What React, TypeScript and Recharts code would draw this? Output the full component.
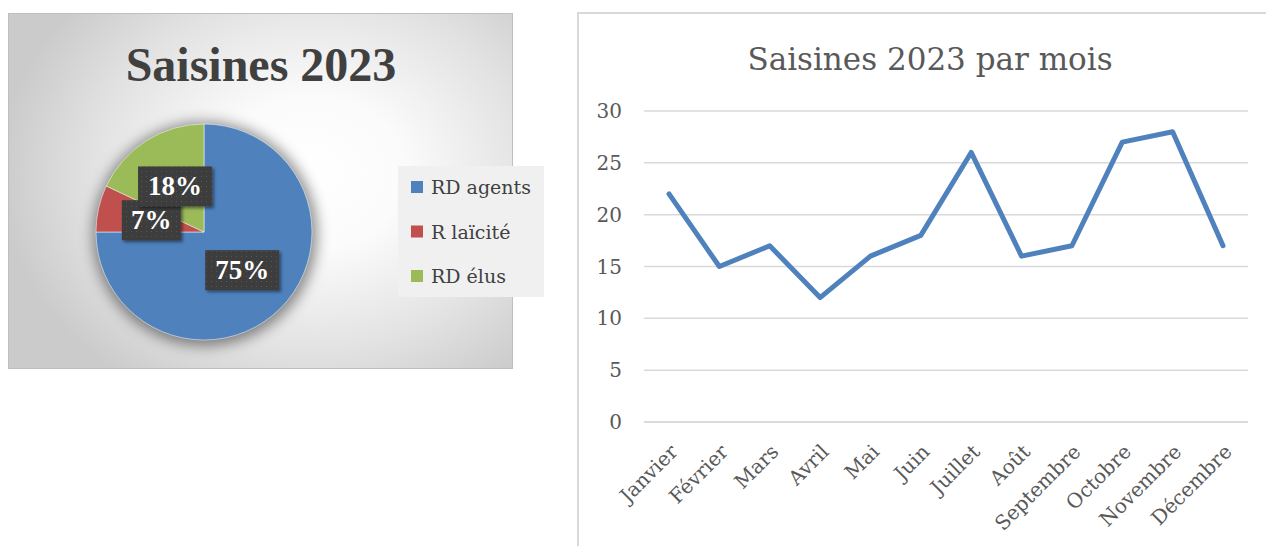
import React from 'react';
import { PieChart, Pie, Cell, Legend, LineChart, Line, XAxis, YAxis, CartesianGrid } from 'recharts';

const pieCategories = ['RD agents', 'R laïcité', 'RD élus'];
const pieShares = [75, 7, 18];
const pieColors = ['#4f81bd', '#c0504d', '#9bbb59'];

const months = ['Janvier', 'Février', 'Mars', 'Avril', 'Mai', 'Juin', 'Juillet', 'Août', 'Septembre', 'Octobre', 'Novembre', 'Décembre'];
const monthlyCounts = [22, 15, 17, 12, 16, 18, 26, 16, 17, 27, 28, 17];
const yTicks = [0, 5, 10, 15, 20, 25, 30];

const pieTitle = 'Saisines 2023';
const lineTitle = 'Saisines 2023 par mois';

const pieData = pieCategories.map((name, i) => ({ name, value: pieShares[i] }));
const lineData = months.map((month, i) => ({ month, count: monthlyCounts[i] }));

const RAD = Math.PI / 180;

const PieLabel = (props: any) => {
  const { cx, cy, midAngle, outerRadius, percent } = props;
  const r = outerRadius * 0.5;
  const x = cx + r * Math.cos(-midAngle * RAD);
  const y = cy + r * Math.sin(-midAngle * RAD);
  const text = `${Math.round(percent * 100)}%`;
  const w = 29 + 15 * text.length;
  const h = 40;
  return (
    <g>
      <rect x={x - w / 2} y={y - h / 2} width={w} height={h} fill="url(#dotPattern)" filter="url(#boxShadow)" />
      <text x={x} y={y + 9} textAnchor="middle" fill="#ffffff" fontFamily="Liberation Serif" fontWeight="bold" fontSize={27}>
        {text}
      </text>
    </g>
  );
};

const PieLegend = (props: any) => {
  const items = (props.payload || [])
    .filter((p: any) => p.type !== 'none' && pieCategories.indexOf(p.value) >= 0)
    .slice()
    .sort((a: any, b: any) => pieCategories.indexOf(a.value) - pieCategories.indexOf(b.value));
  return (
    <div style={{ width: 146, height: 131, background: '#f0f0f0' }}>
      <svg width={146} height={131} style={{ display: 'block' }}>
        {items.map((p: any, i: number) => {
          const cyRow = 21 + i * 44.5;
          return (
            <g key={i}>
              <rect x={13} y={cyRow - 6} width={12} height={12} fill={p.color} />
              <text x={33} y={cyRow + 7} fontFamily="DejaVu Serif" fontSize={19} fill="#404040">
                {p.value}
              </text>
            </g>
          );
        })}
      </svg>
    </div>
  );
};

const XTick = (props: any) => {
  const { x, y, payload } = props;
  const ax = x + 10;
  const ay = y;
  return (
    <text x={ax} y={ay} transform={`rotate(-45, ${ax}, ${ay})`} textAnchor="end" fill="#595959" fontFamily="DejaVu Serif" fontSize={20}>
      {payload.value}
    </text>
  );
};

export default function App() {
  return (
    <div style={{ position: 'absolute', left: 0, top: 0, width: 1266, height: 546, background: '#ffffff', overflow: 'hidden' }}>
      <svg width={0} height={0} style={{ position: 'absolute' }}>
        <defs>
          <pattern id="dotPattern" width={5} height={5} patternUnits="userSpaceOnUse">
            <rect width={5} height={5} fill="#3d3d3d" />
            <rect x={2} y={2} width={1} height={1} fill="#575757" />
          </pattern>
          <filter id="boxShadow" x="-20%" y="-20%" width="150%" height="160%">
            <feDropShadow dx={2} dy={2} stdDeviation={1.5} floodColor="#000" floodOpacity={0.45} />
          </filter>
          <filter id="pieGlow" x="-30%" y="-30%" width="160%" height="160%">
            <feGaussianBlur stdDeviation={7} />
          </filter>
        </defs>
      </svg>

      {/* Left panel: pie */}
      <div
        style={{
          position: 'absolute',
          left: 8,
          top: 13,
          width: 505,
          height: 356,
          boxSizing: 'border-box',
          border: '1px solid #bfbfbf',
          background: 'radial-gradient(ellipse 62% 72% at 60% 45%, #ffffff 0%, #fbfbfb 30%, #e2e2e2 70%, #cbcbcb 100%)',
        }}
      >
        <PieChart width={503} height={354} margin={{ top: 0, right: 0, bottom: 0, left: 0 }}>
          <Pie
            data={pieData}
            dataKey="value"
            nameKey="name"
            cx={196}
            cy={220}
            outerRadius={112}
            startAngle={90}
            endAngle={-270}
            isAnimationActive={false}
            legendType="none"
            stroke="none"
            label={false}
            style={{ filter: 'url(#pieGlow)' }}
          >
            {pieData.map((d, i) => (
              <Cell key={i} fill="#000000" fillOpacity={0.45} />
            ))}
          </Pie>
          <Pie
            data={pieData}
            dataKey="value"
            nameKey="name"
            cx={195}
            cy={218}
            outerRadius={108}
            startAngle={90}
            endAngle={-270}
            isAnimationActive={false}
            stroke="#ffffff"
            strokeWidth={0.5}
            label={PieLabel}
            labelLine={false}
          >
            {pieData.map((d, i) => (
              <Cell key={i} fill={pieColors[i]} />
            ))}
          </Pie>
          <Legend
            content={PieLegend}
            layout="vertical"
            wrapperStyle={{ position: 'absolute', left: 389, top: 152, width: 146, height: 131 }}
          />
        </PieChart>
        <svg width={503} height={354} style={{ position: 'absolute', left: 0, top: 0, pointerEvents: 'none' }}>
          <text x={252} y={67} textAnchor="middle" fontFamily="Liberation Serif" fontWeight="bold" fontSize={48} fill="#404040">
            {pieTitle}
          </text>
        </svg>
      </div>

      {/* Right panel: line */}
      <div
        style={{
          position: 'absolute',
          left: 577,
          top: 12,
          width: 720,
          height: 560,
          boxSizing: 'border-box',
          borderLeft: '2px solid #d9d9d9',
          borderTop: '2px solid #d9d9d9',
          background: '#ffffff',
        }}
      >
        <LineChart width={700} height={532} data={lineData} margin={{ top: 97, right: 31, left: 15, bottom: 24 }}>
          <CartesianGrid vertical={false} stroke="#d9d9d9" strokeWidth={1.5} />
          <XAxis
            dataKey="month"
            interval={0}
            padding={{ left: 25, right: 25 }}
            tickLine={false}
            tickSize={0}
            tickMargin={31}
            axisLine={{ stroke: '#d9d9d9', strokeWidth: 1.5 }}
            height={100}
            tick={<XTick />}
          />
          <YAxis
            domain={[0, 30]}
            ticks={yTicks}
            width={50}
            axisLine={false}
            tickLine={false}
            tickSize={0}
            tickMargin={22}
            tick={{ fill: '#595959', fontFamily: 'DejaVu Serif', fontSize: 20 }}
          />
          <Line
            type="linear"
            dataKey="count"
            stroke="#4f81bd"
            strokeWidth={5}
            dot={false}
            strokeLinejoin="round"
            strokeLinecap="round"
            isAnimationActive={false}
          />
        </LineChart>
        <svg width={700} height={100} style={{ position: 'absolute', left: 0, top: 0, pointerEvents: 'none' }}>
          <text x={351} y={56} textAnchor="middle" fontFamily="DejaVu Serif" fontSize={31} fill="#595959">
            {lineTitle}
          </text>
        </svg>
      </div>
    </div>
  );
}
